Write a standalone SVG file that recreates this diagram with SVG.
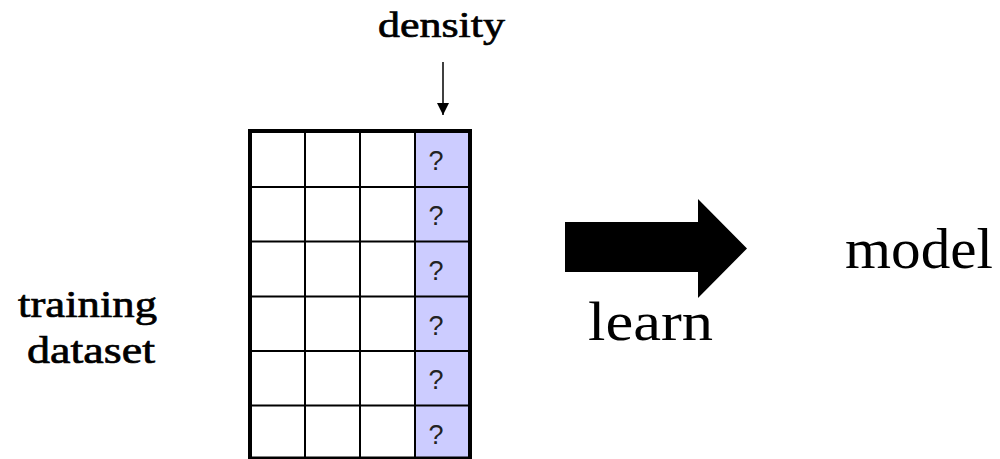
<svg xmlns="http://www.w3.org/2000/svg" width="1000" height="459" viewBox="0 0 1000 459">
  <style>
    .serif { font-family: "Liberation Serif", "Times New Roman", serif; fill: #000; }
    .heavy { stroke: #000; stroke-width: 0.7; }
    .q { font-family: "Liberation Sans", Arial, sans-serif; font-size: 27px; fill: #222; text-anchor: middle; }
    .grid { stroke: #000; stroke-width: 2; fill: none; }
    .outer { stroke: #000; stroke-width: 4; fill: none; }
  </style>
  <defs>
    <marker id="ah" viewBox="0 0 12 18" refX="12" refY="6" markerWidth="12" markerHeight="18" markerUnits="userSpaceOnUse" orient="auto">
      <path d="M0,0 L12,6 L0,12 Z" fill="#000"/>
    </marker>
  </defs>
  <rect width="1000" height="459" fill="#fff"/>

  <g id="dataset-table">
    <rect x="415" y="131" width="55" height="328" fill="#ccccff"/>
    <g class="grid">
      <line x1="305" y1="131" x2="305" y2="459"/>
      <line x1="360" y1="131" x2="360" y2="459"/>
      <line x1="415" y1="131" x2="415" y2="459"/>
      <line x1="250" y1="187" x2="470" y2="187"/>
      <line x1="250" y1="241.5" x2="470" y2="241.5"/>
      <line x1="250" y1="296.5" x2="470" y2="296.5"/>
      <line x1="250" y1="351" x2="470" y2="351"/>
      <line x1="250" y1="405.5" x2="470" y2="405.5"/>
    </g>
    <rect class="outer" x="250" y="131" width="220" height="327.5"/>
    <text class="q" x="436" y="170">?</text>
    <text class="q" x="436" y="225">?</text>
    <text class="q" x="436" y="280">?</text>
    <text class="q" x="436" y="335">?</text>
    <text class="q" x="436" y="389">?</text>
    <text class="q" x="436" y="444">?</text>
  </g>

  <g id="density-label">
    <text class="serif heavy" x="378" y="37" font-size="36" textLength="127" lengthAdjust="spacingAndGlyphs">density</text>
  </g>

  <g id="training-label">
    <text class="serif heavy" x="18" y="317" font-size="38" textLength="139" lengthAdjust="spacingAndGlyphs">training</text>
    <text class="serif heavy" x="27" y="363" font-size="38" textLength="128" lengthAdjust="spacingAndGlyphs">dataset</text>
  </g>

  <g id="learn-arrow">
    <path d="M565,222 L698,222 L698,199 L747,248.5 L698,298 L698,272 L565,272 Z" fill="#000"/>
    <text class="serif" x="588" y="340" font-size="55" textLength="125" lengthAdjust="spacingAndGlyphs">learn</text>
  </g>

  <g id="model-label">
    <text class="serif" x="845" y="268" font-size="58" textLength="148" lengthAdjust="spacingAndGlyphs">model</text>
  </g>

  <g id="connectors">
    <line x1="443" y1="62" x2="443" y2="115" stroke="#000" stroke-width="1.5" marker-end="url(#ah)"/>
  </g>
</svg>
